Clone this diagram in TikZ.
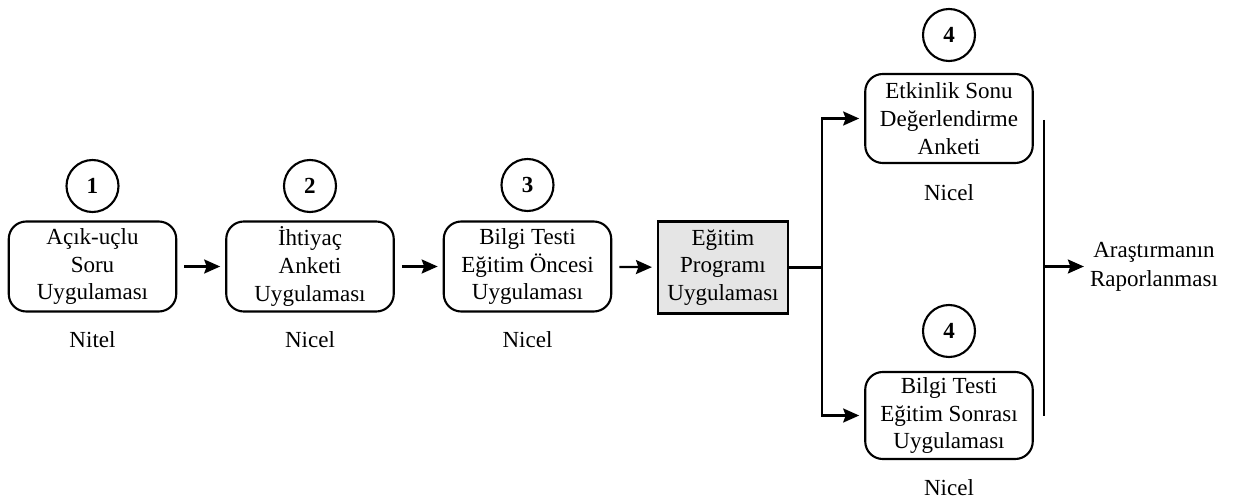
\documentclass[tikz,border=0pt]{standalone}
\usepackage{fontspec}
\setmainfont{Liberation Serif}
\usepackage{tikz}
\usetikzlibrary{arrows.meta}
\tikzset{node distance=4.35cm, auto,
  >={Stealth[length=0.32cm,width=0.28cm,inset=0.05cm]},
  adim/.style={draw, line width=1.2pt, rounded corners=0.35cm, align=center,
    minimum width=3.35cm, minimum height=1.8cm, inner sep=0pt,
    font=\fontsize{13.1}{15.8}\selectfont},
  egitim/.style={adim, rounded corners=0pt, fill=black!10, minimum width=2.6cm,
    minimum height=1.84cm},
  numara/.style={draw, circle, line width=1.2pt, minimum size=1.04cm, inner sep=0pt,
    font=\fontsize{13.1}{15.8}\selectfont\bfseries},
  tur/.style={font=\fontsize{13.1}{16.4}\selectfont},
  ok/.style={->, line width=1.3pt, shorten <=0.14cm, shorten >=0.1cm}}

\begin{document}
\begin{tikzpicture}
  \useasboundingbox (0,0) rectangle (24.82,10.04);
  % ana akis
  \node[adim] (a1) at (1.85,4.71) {Açık-uçlu\\Soru\\Uygulaması};
  \node[adim] (a2) [right of=a1] {İhtiyaç\\Anketi\\Uygulaması};
  \node[adim] (a3) [right of=a2] {Bilgi Testi\\Eğitim Öncesi\\Uygulaması};
  \node[egitim] (eg) at (14.46,4.69) {Eğitim\\Programı\\Uygulaması};
  \node[adim, minimum height=1.78cm] (a4) at (18.98,7.67) {Etkinlik Sonu\\Değerlendirme\\Anketi};
  \node[adim, minimum height=1.74cm] (a5) at (18.98,1.73) {Bilgi Testi\\Eğitim Sonrası\\Uygulaması};
  \node[tur, align=center] (rapor) at (23.08,4.71) {Araştırmanın\\Raporlanması};
  % numaralar
  \node[numara] (n1) [above of=a1, node distance=1.61cm] {1};
  \node[numara] (n2) [above of=a2, node distance=1.61cm] {2};
  \node[numara] (n3) [above of=a3, node distance=1.63cm] {3};
  \node[numara] (n4) [above of=a4, node distance=1.67cm] {4};
  \node[numara] (n5) [above of=a5, node distance=1.69cm] {4};
  % nitel / nicel
  \node[tur] (t1) [below of=a1, node distance=1.47cm] {Nitel};
  \node[tur] (t2) [below of=a2, node distance=1.47cm] {Nicel};
  \node[tur] (t3) [below of=a3, node distance=1.47cm] {Nicel};
  \node[tur] (t4) [below of=a4, node distance=1.49cm] {Nicel};
  \node[tur] (t5) [below of=a5, node distance=1.45cm] {Nicel};
  % oklar
  \draw[ok] (a1) -- (a2);
  \draw[ok] (a2) -- (a3);
  \draw[ok] (a3) -- (eg);
  \coordinate (ayr) at (16.44,4.69);
  \draw[line width=1.3pt] (eg) -- (ayr);
  \draw[ok, shorten <=0pt] (ayr) |- (a4);
  \draw[ok, shorten <=0pt] (ayr) |- (a5);
  \coordinate (sag1) at (20.88,7.64);
  \coordinate (sag2) at (20.88,1.72);
  \coordinate (sagorta) at (20.88,4.71);
  \draw[line width=1.3pt] (sag1) -- (sag2);
  \draw[ok, shorten <=0pt, shorten >=0pt] (sagorta) -- (rapor);
\end{tikzpicture}
\end{document}
